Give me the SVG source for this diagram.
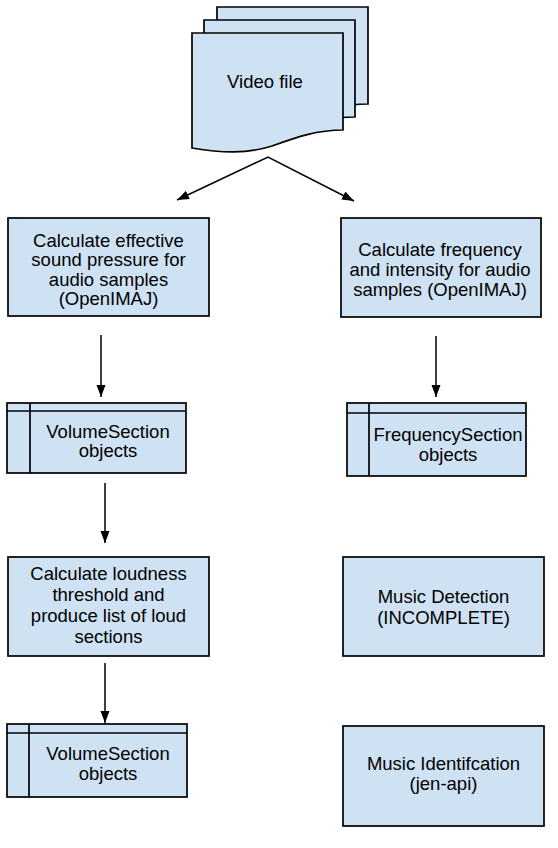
<svg xmlns="http://www.w3.org/2000/svg" width="558" height="848" viewBox="0 0 558 848">
<style>
.box{fill:#cfe2f3;stroke:#000;stroke-width:1.7}
.ln{fill:none;stroke:#000;stroke-width:1.7}
.t{font-family:"Liberation Sans",Arial,sans-serif;font-size:18.5px;fill:#000;text-anchor:middle}
.edge{fill:none;stroke:#000;stroke-width:1.5}
</style>
<defs>
<marker id="ah" markerUnits="userSpaceOnUse" markerWidth="13" markerHeight="10" refX="12" refY="4.5" orient="auto-start-reverse">
<path d="M0,0 L12,4.5 L0,9 Z" fill="#000"/>
</marker>
<path id="doc" d="M0,0 H151 V97 C125,97 105,104 80,113 C55,121 30,120 0,115 Z"/>
</defs>
<rect width="558" height="848" fill="#fff"/>
<g id="video-file">
<use href="#doc" x="217" y="7" class="box"/>
<use href="#doc" x="204" y="20" class="box"/>
<use href="#doc" x="192" y="33" class="box"/>
<text class="t" x="265" y="88">Video file</text>
</g>
<g id="calc-sound-pressure">
<rect class="box" x="8" y="218" width="201" height="98"/>
<text class="t" x="108.5" y="246.5">Calculate effective</text>
<text class="t" x="108.5" y="266">sound pressure for</text>
<text class="t" x="108.5" y="285.5">audio samples</text>
<text class="t" x="108.5" y="305">(OpenIMAJ)</text>
</g>
<g id="calc-frequency">
<rect class="box" x="341" y="218" width="200" height="99"/>
<text class="t" x="440" y="256">Calculate frequency</text>
<text class="t" x="440" y="276">and intensity for audio</text>
<text class="t" x="440" y="296">samples (OpenIMAJ)</text>
</g>
<g id="volume-section-1">
<rect class="box" x="7" y="403" width="179" height="70"/>
<line class="ln" x1="7" y1="411" x2="186" y2="411"/>
<line class="ln" x1="30" y1="403" x2="30" y2="473"/>
<text class="t" x="108" y="438">VolumeSection</text>
<text class="t" x="108" y="457">objects</text>
</g>
<g id="frequency-section">
<rect class="box" x="347" y="403" width="179" height="73"/>
<line class="ln" x1="347" y1="413" x2="526" y2="413"/>
<line class="ln" x1="369" y1="403" x2="369" y2="476"/>
<text class="t" x="448" y="441">FrequencySection</text>
<text class="t" x="448" y="461">objects</text>
</g>
<g id="calc-loudness">
<rect class="box" x="8" y="557" width="201" height="99"/>
<text class="t" x="108.5" y="580">Calculate loudness</text>
<text class="t" x="108.5" y="601">threshold and</text>
<text class="t" x="108.5" y="622">produce list of loud</text>
<text class="t" x="108.5" y="643">sections</text>
</g>
<g id="music-detection">
<rect class="box" x="343" y="557" width="201" height="99"/>
<text class="t" x="443.5" y="603">Music Detection</text>
<text class="t" x="443.5" y="624">(INCOMPLETE)</text>
</g>
<g id="volume-section-2">
<rect class="box" x="7" y="724" width="180" height="73"/>
<line class="ln" x1="7" y1="733" x2="187" y2="733"/>
<line class="ln" x1="29" y1="724" x2="29" y2="797"/>
<text class="t" x="108" y="760">VolumeSection</text>
<text class="t" x="108" y="780">objects</text>
</g>
<g id="music-identification">
<rect class="box" x="343" y="726" width="201" height="100"/>
<text class="t" x="443.5" y="770">Music Identifcation</text>
<text class="t" x="443.5" y="790">(jen-api)</text>
</g>
<g id="connectors">
<polyline class="edge" points="177,200 268,157 354,201" marker-start="url(#ah)" marker-end="url(#ah)"/>
<line class="edge" x1="101" y1="335" x2="101" y2="397" marker-end="url(#ah)"/>
<line class="edge" x1="105" y1="483" x2="105" y2="543" marker-end="url(#ah)"/>
<line class="edge" x1="105" y1="663" x2="105" y2="723" marker-end="url(#ah)"/>
<line class="edge" x1="436" y1="336" x2="436" y2="397" marker-end="url(#ah)"/>
</g>
</svg>
